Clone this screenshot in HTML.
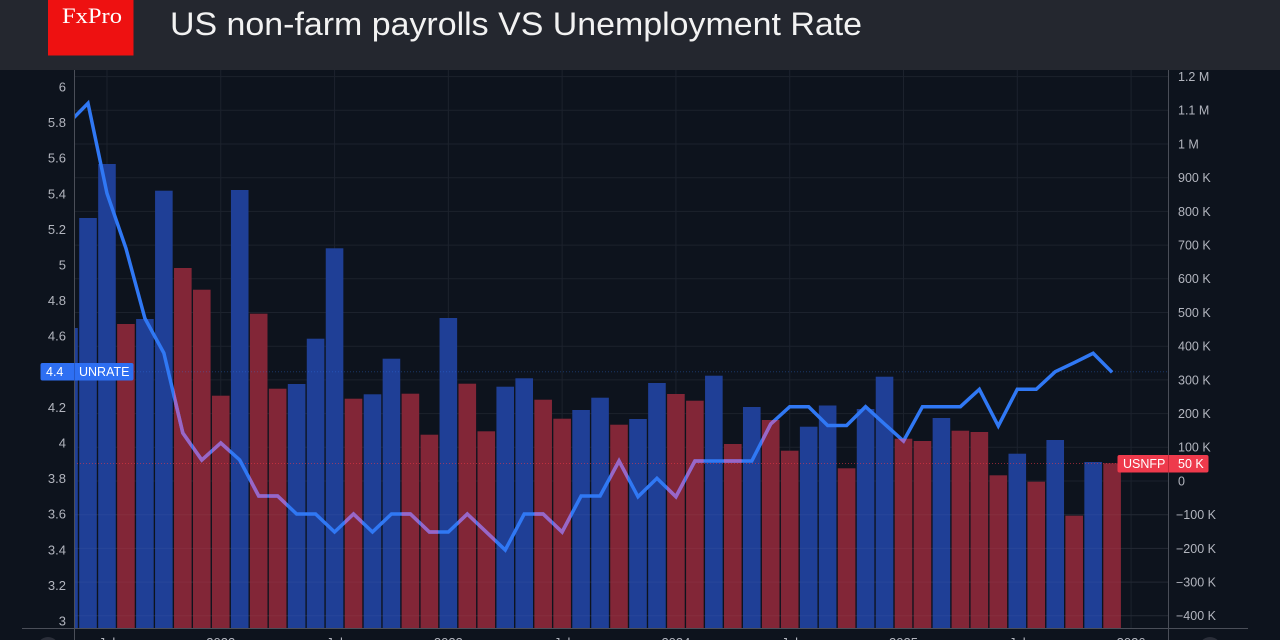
<!DOCTYPE html>
<html><head><meta charset="utf-8"><style>
html,body{margin:0;padding:0;background:#0d131d;}
svg{display:block;}
text{font-family:"Liberation Sans",sans-serif;}
.l{fill:#b2b5be;font-size:13px;}
.r{fill:#b2b5be;font-size:12.5px;}
.b{fill:#1f3f96;}
.d{fill:#822637;}
</style></head><body>
<svg width="1280" height="640" viewBox="0 0 1280 640" xmlns="http://www.w3.org/2000/svg">
<defs>
<clipPath id="plot"><rect x="74.5" y="70" width="1093.5" height="558"/></clipPath>
<clipPath id="redc">
<rect x="117.13" y="324" width="17.6" height="304"/>
<rect x="174.03" y="268" width="17.6" height="360"/>
<rect x="192.99" y="289.7" width="17.6" height="338.3"/>
<rect x="211.96" y="395.7" width="17.6" height="232.3"/>
<rect x="249.89" y="313.7" width="17.6" height="314.3"/>
<rect x="268.85" y="388.7" width="17.6" height="239.3"/>
<rect x="344.71" y="398.7" width="17.6" height="229.3"/>
<rect x="401.61" y="393.7" width="17.6" height="234.3"/>
<rect x="420.57" y="434.7" width="17.6" height="193.3"/>
<rect x="458.5" y="383.7" width="17.6" height="244.3"/>
<rect x="477.47" y="431.3" width="17.6" height="196.7"/>
<rect x="534.36" y="399.7" width="17.6" height="228.3"/>
<rect x="553.33" y="418.7" width="17.6" height="209.3"/>
<rect x="610.22" y="424.7" width="17.6" height="203.3"/>
<rect x="667.12" y="394" width="17.6" height="234"/>
<rect x="686.08" y="400.7" width="17.6" height="227.3"/>
<rect x="724.01" y="444" width="17.6" height="184"/>
<rect x="761.94" y="420" width="17.6" height="208"/>
<rect x="780.91" y="450.7" width="17.6" height="177.3"/>
<rect x="837.8" y="468.3" width="17.6" height="159.7"/>
<rect x="894.7" y="438.7" width="17.6" height="189.3"/>
<rect x="913.66" y="441" width="17.6" height="187"/>
<rect x="951.59" y="430.7" width="17.6" height="197.3"/>
<rect x="970.56" y="432" width="17.6" height="196"/>
<rect x="989.52" y="475.3" width="17.6" height="152.7"/>
<rect x="1027.45" y="481.7" width="17.6" height="146.3"/>
<rect x="1065.38" y="515.7" width="17.6" height="112.3"/>
<rect x="1103.31" y="463.3" width="17.6" height="164.7"/>
</clipPath>
</defs>

<!-- backgrounds -->
<rect x="0" y="0" width="1280" height="640" fill="#0d131d"/>
<rect x="0" y="0" width="1280" height="70" fill="#24272f"/>

<!-- header -->
<rect x="48" y="0" width="85.5" height="55.5" fill="#ee1111"/>
<text x="62" y="23" font-family="Liberation Serif, serif" font-size="22" fill="#ffffff" textLength="60" lengthAdjust="spacingAndGlyphs" style="font-family:'Liberation Serif',serif">FxPro</text>
<text x="170" y="35" font-size="32.5" fill="#f2f2f2" textLength="692" lengthAdjust="spacingAndGlyphs">US non-farm payrolls VS Unemployment Rate</text>

<!-- gridlines -->
<g stroke="#1c222d" stroke-width="1">
<line x1="74" y1="76.6" x2="1168" y2="76.6"/>
<line x1="74" y1="110.3" x2="1168" y2="110.3"/>
<line x1="74" y1="144" x2="1168" y2="144"/>
<line x1="74" y1="177.7" x2="1168" y2="177.7"/>
<line x1="74" y1="211.4" x2="1168" y2="211.4"/>
<line x1="74" y1="245.1" x2="1168" y2="245.1"/>
<line x1="74" y1="278.8" x2="1168" y2="278.8"/>
<line x1="74" y1="312.5" x2="1168" y2="312.5"/>
<line x1="74" y1="346.2" x2="1168" y2="346.2"/>
<line x1="74" y1="379.9" x2="1168" y2="379.9"/>
<line x1="74" y1="413.6" x2="1168" y2="413.6"/>
<line x1="74" y1="447.3" x2="1168" y2="447.3"/>
<line x1="74" y1="481" x2="1168" y2="481"/>
<line x1="74" y1="514.7" x2="1168" y2="514.7"/>
<line x1="74" y1="548.4" x2="1168" y2="548.4"/>
<line x1="74" y1="582.1" x2="1168" y2="582.1"/>
<line x1="74" y1="615.8" x2="1168" y2="615.8"/>
<line x1="106.97" y1="70" x2="106.97" y2="628"/>
<line x1="220.76" y1="70" x2="220.76" y2="628"/>
<line x1="334.55" y1="70" x2="334.55" y2="628"/>
<line x1="448.34" y1="70" x2="448.34" y2="628"/>
<line x1="562.13" y1="70" x2="562.13" y2="628"/>
<line x1="675.92" y1="70" x2="675.92" y2="628"/>
<line x1="789.71" y1="70" x2="789.71" y2="628"/>
<line x1="903.5" y1="70" x2="903.5" y2="628"/>
<line x1="1017.29" y1="70" x2="1017.29" y2="628"/>
<line x1="1131.08" y1="70" x2="1131.08" y2="628"/>
</g>

<!-- bars -->
<g clip-path="url(#plot)">
<rect class="b" x="60.2" y="328" width="17.6" height="300"/>
<rect class="b" x="79.2" y="218" width="17.6" height="410"/>
<rect class="b" x="98.17" y="164" width="17.6" height="464"/>
<rect class="d" x="117.13" y="324" width="17.6" height="304"/>
<rect class="b" x="136.1" y="319" width="17.6" height="309"/>
<rect class="b" x="155.06" y="190.7" width="17.6" height="437.3"/>
<rect class="d" x="174.03" y="268" width="17.6" height="360"/>
<rect class="d" x="192.99" y="289.7" width="17.6" height="338.3"/>
<rect class="d" x="211.96" y="395.7" width="17.6" height="232.3"/>
<rect class="b" x="230.92" y="190" width="17.6" height="438"/>
<rect class="d" x="249.89" y="313.7" width="17.6" height="314.3"/>
<rect class="d" x="268.85" y="388.7" width="17.6" height="239.3"/>
<rect class="b" x="287.82" y="384" width="17.6" height="244"/>
<rect class="b" x="306.78" y="338.7" width="17.6" height="289.3"/>
<rect class="b" x="325.75" y="248.3" width="17.6" height="379.7"/>
<rect class="d" x="344.71" y="398.7" width="17.6" height="229.3"/>
<rect class="b" x="363.68" y="394.3" width="17.6" height="233.7"/>
<rect class="b" x="382.64" y="358.7" width="17.6" height="269.3"/>
<rect class="d" x="401.61" y="393.7" width="17.6" height="234.3"/>
<rect class="d" x="420.57" y="434.7" width="17.6" height="193.3"/>
<rect class="b" x="439.54" y="318" width="17.6" height="310"/>
<rect class="d" x="458.5" y="383.7" width="17.6" height="244.3"/>
<rect class="d" x="477.47" y="431.3" width="17.6" height="196.7"/>
<rect class="b" x="496.43" y="386.7" width="17.6" height="241.3"/>
<rect class="b" x="515.4" y="378.3" width="17.6" height="249.7"/>
<rect class="d" x="534.36" y="399.7" width="17.6" height="228.3"/>
<rect class="d" x="553.33" y="418.7" width="17.6" height="209.3"/>
<rect class="b" x="572.29" y="410" width="17.6" height="218"/>
<rect class="b" x="591.26" y="397.7" width="17.6" height="230.3"/>
<rect class="d" x="610.22" y="424.7" width="17.6" height="203.3"/>
<rect class="b" x="629.19" y="419" width="17.6" height="209"/>
<rect class="b" x="648.15" y="383" width="17.6" height="245"/>
<rect class="d" x="667.12" y="394" width="17.6" height="234"/>
<rect class="d" x="686.08" y="400.7" width="17.6" height="227.3"/>
<rect class="b" x="705.05" y="375.7" width="17.6" height="252.3"/>
<rect class="d" x="724.01" y="444" width="17.6" height="184"/>
<rect class="b" x="742.98" y="407" width="17.6" height="221"/>
<rect class="d" x="761.94" y="420" width="17.6" height="208"/>
<rect class="d" x="780.91" y="450.7" width="17.6" height="177.3"/>
<rect class="b" x="799.87" y="426.7" width="17.6" height="201.3"/>
<rect class="b" x="818.84" y="405.5" width="17.6" height="222.5"/>
<rect class="d" x="837.8" y="468.3" width="17.6" height="159.7"/>
<rect class="b" x="856.77" y="409" width="17.6" height="219"/>
<rect class="b" x="875.73" y="376.7" width="17.6" height="251.3"/>
<rect class="d" x="894.7" y="438.7" width="17.6" height="189.3"/>
<rect class="d" x="913.66" y="441" width="17.6" height="187"/>
<rect class="b" x="932.63" y="418" width="17.6" height="210"/>
<rect class="d" x="951.59" y="430.7" width="17.6" height="197.3"/>
<rect class="d" x="970.56" y="432" width="17.6" height="196"/>
<rect class="d" x="989.52" y="475.3" width="17.6" height="152.7"/>
<rect class="b" x="1008.49" y="453.7" width="17.6" height="174.3"/>
<rect class="d" x="1027.45" y="481.7" width="17.6" height="146.3"/>
<rect class="b" x="1046.42" y="440" width="17.6" height="188"/>
<rect class="d" x="1065.38" y="515.7" width="17.6" height="112.3"/>
<rect class="b" x="1084.35" y="462" width="17.6" height="166"/>
<rect class="d" x="1103.31" y="463.3" width="17.6" height="164.7"/>

<!-- faint gridlines over bars -->
<g stroke="#ffffff" stroke-opacity="0.04" stroke-width="1">
<line x1="74" y1="514.7" x2="1168" y2="514.7"/>
<line x1="74" y1="548.4" x2="1168" y2="548.4"/>
<line x1="74" y1="582.1" x2="1168" y2="582.1"/>
<line x1="74" y1="615.8" x2="1168" y2="615.8"/>
</g>

<!-- price lines dotted -->
<line x1="74" y1="463.5" x2="1168" y2="463.5" stroke="#f23645" stroke-opacity="0.55" stroke-width="1" stroke-dasharray="1 2"/>
<line x1="134" y1="371.8" x2="1168" y2="371.8" stroke="#3078f4" stroke-opacity="0.35" stroke-width="1" stroke-dasharray="1 2"/>

<!-- unemployment line -->
<polyline fill="none" stroke="#3078f4" stroke-width="3.5" stroke-linejoin="miter" stroke-miterlimit="3" points="69.04,122.6 88,103.3 106.97,193.3 125.93,248.3 144.9,318.3 163.86,353 182.83,433 201.79,460 220.76,443 239.72,460 258.69,496 277.65,496 296.62,514 315.58,514 334.55,532 353.51,514 372.48,532 391.44,514 410.41,514 429.37,532 448.34,532 467.3,514 486.27,532 505.23,550 524.2,514 543.16,514 562.13,532 581.09,496 600.06,496 619.02,461 637.99,496.7 656.95,478.3 675.92,496.7 694.88,461 713.85,461 732.81,461 751.78,461 770.74,424 789.71,406.7 808.67,406.7 827.64,425.5 846.6,425.5 865.57,406.7 884.53,424 903.5,441 922.46,406.7 941.43,406.7 960.39,406.7 979.36,389.3 998.32,426 1017.29,389.3 1036.25,389.3 1055.22,371.7 1074.18,362.7 1093.15,353.3 1112.11,372.3"/>
<g clip-path="url(#redc)">
<polyline fill="none" stroke="#9a66c6" stroke-width="3.5" stroke-linejoin="miter" stroke-miterlimit="3" points="69.04,122.6 88,103.3 106.97,193.3 125.93,248.3 144.9,318.3 163.86,353 182.83,433 201.79,460 220.76,443 239.72,460 258.69,496 277.65,496 296.62,514 315.58,514 334.55,532 353.51,514 372.48,532 391.44,514 410.41,514 429.37,532 448.34,532 467.3,514 486.27,532 505.23,550 524.2,514 543.16,514 562.13,532 581.09,496 600.06,496 619.02,461 637.99,496.7 656.95,478.3 675.92,496.7 694.88,461 713.85,461 732.81,461 751.78,461 770.74,424 789.71,406.7 808.67,406.7 827.64,425.5 846.6,425.5 865.57,406.7 884.53,424 903.5,441 922.46,406.7 941.43,406.7 960.39,406.7 979.36,389.3 998.32,426 1017.29,389.3 1036.25,389.3 1055.22,371.7 1074.18,362.7 1093.15,353.3 1112.11,372.3"/>
</g>
</g>

<!-- axes -->
<line x1="74.5" y1="70" x2="74.5" y2="640" stroke="#4a4e58" stroke-width="1"/>
<line x1="1168.5" y1="70" x2="1168.5" y2="640" stroke="#4a4e58" stroke-width="1"/>
<line x1="22" y1="628.5" x2="1248" y2="628.5" stroke="#4a4e58" stroke-width="1"/>

<!-- left labels -->
<g class="l" text-anchor="end">
<text x="66" y="91.5">6</text>
<text x="66" y="127.1">5.8</text>
<text x="66" y="162.7">5.6</text>
<text x="66" y="198.3">5.4</text>
<text x="66" y="233.9">5.2</text>
<text x="66" y="269.5">5</text>
<text x="66" y="305.1">4.8</text>
<text x="66" y="340.7">4.6</text>
<text x="66" y="411.9">4.2</text>
<text x="66" y="447.5">4</text>
<text x="66" y="483.1">3.8</text>
<text x="66" y="518.7">3.6</text>
<text x="66" y="554.3">3.4</text>
<text x="66" y="589.9">3.2</text>
<text x="66" y="625.5">3</text>
</g>

<!-- right labels -->
<g class="r">
<text x="1178" y="81">1.2 M</text>
<text x="1178" y="114.7">1.1 M</text>
<text x="1178" y="148.4">1 M</text>
<text x="1178" y="182.1">900 K</text>
<text x="1178" y="215.8">800 K</text>
<text x="1178" y="249.5">700 K</text>
<text x="1178" y="283.2">600 K</text>
<text x="1178" y="316.9">500 K</text>
<text x="1178" y="350.6">400 K</text>
<text x="1178" y="384.3">300 K</text>
<text x="1178" y="418">200 K</text>
<text x="1178" y="451.7">100 K</text>
<text x="1178" y="485.4">0</text>
<text x="1176" y="519.1">−100 K</text>
<text x="1176" y="552.8">−200 K</text>
<text x="1176" y="586.5">−300 K</text>
<text x="1176" y="620.2">−400 K</text>
</g>

<!-- bottom labels (clipped) -->
<g class="l" text-anchor="middle">
<text x="106.97" y="647">Jul</text>
<text x="220.76" y="647">2022</text>
<text x="334.55" y="647">Jul</text>
<text x="448.34" y="647">2023</text>
<text x="562.13" y="647">Jul</text>
<text x="675.92" y="647">2024</text>
<text x="789.71" y="647">Jul</text>
<text x="903.5" y="647">2025</text>
<text x="1017.29" y="647">Jul</text>
<text x="1131.08" y="647">2026</text>
</g>
<circle cx="48" cy="648" r="11" fill="#2a2e39"/>
<circle cx="1210" cy="648" r="11" fill="#2a2e39"/>

<!-- UNRATE label -->
<rect x="40.5" y="363" width="93" height="17.5" rx="2" fill="#2e6ff2"/>
<line x1="74.5" y1="363" x2="74.5" y2="380.5" stroke="#2558c8" stroke-width="1"/>
<text x="46" y="376" font-size="12.5" fill="#ffffff">4.4</text>
<text x="79" y="376" font-size="12.5" fill="#ffffff">UNRATE</text>

<!-- USNFP label -->
<rect x="1117.5" y="455" width="91" height="17.5" rx="2" fill="#ee3a4c"/>
<line x1="1168.5" y1="455" x2="1168.5" y2="472.5" stroke="#c42a3a" stroke-width="1"/>
<text x="1123" y="468" font-size="12.5" fill="#ffffff">USNFP</text>
<text x="1178" y="468" font-size="12.5" fill="#ffffff">50 K</text>
</svg>
</body></html>
